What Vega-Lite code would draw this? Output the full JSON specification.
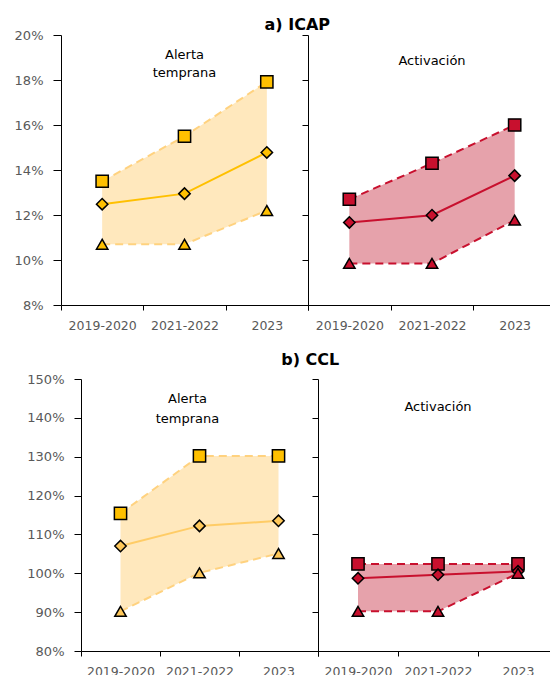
{
  "$schema": "https://vega.github.io/schema/vega-lite/v6.json",
  "padding": {"left": 0, "top": 17, "right": 0, "bottom": 0},
  "config": {
    "view": {"stroke": null},
    "font": "DejaVu Sans",
    "axis": {"grid": false, "domainColor": "#000000", "tickColor": "#000000", "labelColor": "#595959", "labelFont": "DejaVu Sans", "labelFontSize": 13, "labelOverlap": false, "title": null},
    "axisX": {"labelFontSize": 12.5},
    "title": {"font": "DejaVu Sans", "fontSize": 16, "fontWeight": "bold", "color": "#000000"},
    "concat": {"spacing": 0}
  },
  "datasets": {
    "d": [
      {"ind": "ICAP", "grp": "Alerta temprana", "period": "2019-2020", "lo": 10.7, "mid": 12.48, "hi": 13.5},
      {"ind": "ICAP", "grp": "Alerta temprana", "period": "2021-2022", "lo": 10.7, "mid": 12.95, "hi": 15.5},
      {"ind": "ICAP", "grp": "Alerta temprana", "period": "2023", "lo": 12.2, "mid": 14.78, "hi": 17.92},
      {"ind": "ICAP", "grp": "Activación", "period": "2019-2020", "lo": 9.85, "mid": 11.67, "hi": 12.7},
      {"ind": "ICAP", "grp": "Activación", "period": "2021-2022", "lo": 9.85, "mid": 11.99, "hi": 14.3},
      {"ind": "ICAP", "grp": "Activación", "period": "2023", "lo": 11.77, "mid": 13.75, "hi": 16.0},
      {"ind": "CCL", "grp": "Alerta temprana", "period": "2019-2020", "lo": 90.2, "mid": 107.0, "hi": 115.4},
      {"ind": "CCL", "grp": "Alerta temprana", "period": "2021-2022", "lo": 100.1, "mid": 112.2, "hi": 130.2},
      {"ind": "CCL", "grp": "Alerta temprana", "period": "2023", "lo": 105.1, "mid": 113.5, "hi": 130.2},
      {"ind": "CCL", "grp": "Activación", "period": "2019-2020", "lo": 90.2, "mid": 98.7, "hi": 102.4},
      {"ind": "CCL", "grp": "Activación", "period": "2021-2022", "lo": 90.2, "mid": 99.6, "hi": 102.4},
      {"ind": "CCL", "grp": "Activación", "period": "2023", "lo": 100.0, "mid": 100.5, "hi": 102.4}
    ]
  },
  "spacing": 20,
  "vconcat": [
    {
      "title": {"text": "a) ICAP", "anchor": "middle", "dx": 19, "offset": -4},
      "bounds": "flush",
      "spacing": 0,
      "hconcat": [
        {
          "width": 247, "height": 270,
          "data": {"name": "d"},
          "transform": [{"filter": "datum.ind === 'ICAP' && datum.grp === 'Alerta temprana'"}],
          "encoding": {
            "x": {"field": "period", "type": "ordinal", "bandPosition": 0.5,
              "scale": {"type": "band", "paddingInner": 0, "paddingOuter": 0, "domain": ["2019-2020", "2021-2022", "2023"]},
              "axis": {"tickBand": "extent", "labelAngle": 0, "tickSize": 5, "labelPadding": 9}}
          },
          "layer": [
            {"mark": {"type": "area", "color": "#FFE8BD", "opacity": 1},
             "encoding": {"y": {"field": "lo", "type": "quantitative", "scale": {"domain": [8, 20]},
               "axis": {"values": [8, 10, 12, 14, 16, 18, 20], "labelExpr": "datum.value + '%'", "tickSize": 8, "labelPadding": 10, "minExtent": 61, "maxExtent": 61}},
               "y2": {"field": "hi"}}},
            {"mark": {"type": "line", "color": "#FFD27F", "strokeWidth": 2, "strokeDash": [8, 5]}, "encoding": {"y": {"field": "hi", "type": "quantitative", "axis": {"values": [8, 10, 12, 14, 16, 18, 20], "labelExpr": "datum.value + '%'", "tickSize": 8, "labelPadding": 10, "minExtent": 61, "maxExtent": 61}}}},
            {"mark": {"type": "line", "color": "#FFD27F", "strokeWidth": 2, "strokeDash": [8, 5]}, "encoding": {"y": {"field": "lo", "type": "quantitative", "axis": {"values": [8, 10, 12, 14, 16, 18, 20], "labelExpr": "datum.value + '%'", "tickSize": 8, "labelPadding": 10, "minExtent": 61, "maxExtent": 61}}}},
            {"mark": {"type": "line", "color": "#FFC000", "strokeWidth": 2}, "encoding": {"y": {"field": "mid", "type": "quantitative", "axis": {"values": [8, 10, 12, 14, 16, 18, 20], "labelExpr": "datum.value + '%'", "tickSize": 8, "labelPadding": 10, "minExtent": 61, "maxExtent": 61}}}},
            {"mark": {"type": "point", "shape": "square", "size": 150, "filled": true, "fill": "#FFC000", "stroke": "#000000", "strokeWidth": 1.5, "opacity": 1}, "encoding": {"y": {"field": "hi", "type": "quantitative", "axis": {"values": [8, 10, 12, 14, 16, 18, 20], "labelExpr": "datum.value + '%'", "tickSize": 8, "labelPadding": 10, "minExtent": 61, "maxExtent": 61}}}},
            {"mark": {"type": "point", "shape": "diamond", "size": 130, "filled": true, "fill": "#FFC000", "stroke": "#000000", "strokeWidth": 1.5, "opacity": 1}, "encoding": {"y": {"field": "mid", "type": "quantitative", "axis": {"values": [8, 10, 12, 14, 16, 18, 20], "labelExpr": "datum.value + '%'", "tickSize": 8, "labelPadding": 10, "minExtent": 61, "maxExtent": 61}}}},
            {"mark": {"type": "point", "shape": "triangle-up", "size": 130, "filled": true, "fill": "#FFC000", "stroke": "#000000", "strokeWidth": 1.5, "opacity": 1}, "encoding": {"y": {"field": "lo", "type": "quantitative", "axis": {"values": [8, 10, 12, 14, 16, 18, 20], "labelExpr": "datum.value + '%'", "tickSize": 8, "labelPadding": 10, "minExtent": 61, "maxExtent": 61}}}},
            {"transform": [{"filter": "datum.period === '2021-2022'"}],
             "mark": {"type": "text", "fontSize": 13, "color": "#000000", "lineHeight": 18, "baseline": "middle"},
             "encoding": {"y": {"datum": 19.11, "type": "quantitative", "axis": {"values": [8, 10, 12, 14, 16, 18, 20], "labelExpr": "datum.value + '%'", "tickSize": 8, "labelPadding": 10, "minExtent": 61, "maxExtent": 61}}, "text": {"value": ["Alerta", "temprana"]}}}
          ]
        },
        {
          "width": 248, "height": 270,
          "data": {"name": "d"},
          "transform": [{"filter": "datum.ind === 'ICAP' && datum.grp === 'Activación'"}],
          "encoding": {
            "x": {"field": "period", "type": "ordinal", "bandPosition": 0.5,
              "scale": {"type": "band", "paddingInner": 0, "paddingOuter": 0, "domain": ["2019-2020", "2021-2022", "2023"]},
              "axis": {"tickBand": "extent", "labelAngle": 0, "tickSize": 5, "labelPadding": 9}}
          },
          "layer": [
            {"mark": {"type": "area", "color": "#E6A2AB", "opacity": 1},
             "encoding": {"y": {"field": "lo", "type": "quantitative", "scale": {"domain": [8, 20]},
               "axis": {"values": [8, 10, 12, 14, 16, 18, 20], "labels": false, "tickSize": 6, "minExtent": 0, "maxExtent": 0}},
               "y2": {"field": "hi"}}},
            {"mark": {"type": "line", "color": "#C8102E", "strokeWidth": 2, "strokeDash": [8, 5]}, "encoding": {"y": {"field": "hi", "type": "quantitative", "axis": {"values": [8, 10, 12, 14, 16, 18, 20], "labels": false, "tickSize": 6, "minExtent": 0, "maxExtent": 0}}}},
            {"mark": {"type": "line", "color": "#C8102E", "strokeWidth": 2, "strokeDash": [8, 5]}, "encoding": {"y": {"field": "lo", "type": "quantitative", "axis": {"values": [8, 10, 12, 14, 16, 18, 20], "labels": false, "tickSize": 6, "minExtent": 0, "maxExtent": 0}}}},
            {"mark": {"type": "line", "color": "#C8102E", "strokeWidth": 2}, "encoding": {"y": {"field": "mid", "type": "quantitative", "axis": {"values": [8, 10, 12, 14, 16, 18, 20], "labels": false, "tickSize": 6, "minExtent": 0, "maxExtent": 0}}}},
            {"mark": {"type": "point", "shape": "square", "size": 150, "filled": true, "fill": "#C8102E", "stroke": "#000000", "strokeWidth": 1.5, "opacity": 1}, "encoding": {"y": {"field": "hi", "type": "quantitative", "axis": {"values": [8, 10, 12, 14, 16, 18, 20], "labels": false, "tickSize": 6, "minExtent": 0, "maxExtent": 0}}}},
            {"mark": {"type": "point", "shape": "diamond", "size": 130, "filled": true, "fill": "#C8102E", "stroke": "#000000", "strokeWidth": 1.5, "opacity": 1}, "encoding": {"y": {"field": "mid", "type": "quantitative", "axis": {"values": [8, 10, 12, 14, 16, 18, 20], "labels": false, "tickSize": 6, "minExtent": 0, "maxExtent": 0}}}},
            {"mark": {"type": "point", "shape": "triangle-up", "size": 130, "filled": true, "fill": "#C8102E", "stroke": "#000000", "strokeWidth": 1.5, "opacity": 1}, "encoding": {"y": {"field": "lo", "type": "quantitative", "axis": {"values": [8, 10, 12, 14, 16, 18, 20], "labels": false, "tickSize": 6, "minExtent": 0, "maxExtent": 0}}}},
            {"transform": [{"filter": "datum.period === '2021-2022'"}],
             "mark": {"type": "text", "fontSize": 13, "color": "#000000", "baseline": "middle"},
             "encoding": {"y": {"datum": 18.85, "type": "quantitative", "axis": {"values": [8, 10, 12, 14, 16, 18, 20], "labels": false, "tickSize": 6, "minExtent": 0, "maxExtent": 0}}, "text": {"value": "Activación"}}}
          ]
        }
      ]
    },
    {
      "title": {"text": "b) CCL", "anchor": "middle", "dx": 21, "offset": 5},
      "bounds": "flush",
      "spacing": 0,
      "hconcat": [
        {
          "width": 20, "height": 272,
          "data": {"values": []},
          "mark": {"type": "point", "opacity": 0}
        },
        {
          "width": 237, "height": 272,
          "data": {"name": "d"},
          "transform": [{"filter": "datum.ind === 'CCL' && datum.grp === 'Alerta temprana'"}],
          "encoding": {
            "x": {"field": "period", "type": "ordinal", "bandPosition": 0.5,
              "scale": {"type": "band", "paddingInner": 0, "paddingOuter": 0, "domain": ["2019-2020", "2021-2022", "2023"]},
              "axis": {"tickBand": "extent", "labelAngle": 0, "tickSize": 5, "labelPadding": 9}}
          },
          "layer": [
            {"mark": {"type": "area", "color": "#FFE8BD", "opacity": 1},
             "encoding": {"y": {"field": "lo", "type": "quantitative", "scale": {"domain": [80, 150]},
               "axis": {"values": [80, 90, 100, 110, 120, 130, 140, 150], "labelExpr": "datum.value + '%'", "tickSize": 7, "labelPadding": 10, "minExtent": 61, "maxExtent": 61}},
               "y2": {"field": "hi"}}},
            {"mark": {"type": "line", "color": "#FFD27F", "strokeWidth": 2, "strokeDash": [8, 5]}, "encoding": {"y": {"field": "hi", "type": "quantitative", "axis": {"values": [80, 90, 100, 110, 120, 130, 140, 150], "labelExpr": "datum.value + '%'", "tickSize": 7, "labelPadding": 10, "minExtent": 61, "maxExtent": 61}}}},
            {"mark": {"type": "line", "color": "#FFD27F", "strokeWidth": 2, "strokeDash": [8, 5]}, "encoding": {"y": {"field": "lo", "type": "quantitative", "axis": {"values": [80, 90, 100, 110, 120, 130, 140, 150], "labelExpr": "datum.value + '%'", "tickSize": 7, "labelPadding": 10, "minExtent": 61, "maxExtent": 61}}}},
            {"mark": {"type": "line", "color": "#FFCC66", "strokeWidth": 2}, "encoding": {"y": {"field": "mid", "type": "quantitative", "axis": {"values": [80, 90, 100, 110, 120, 130, 140, 150], "labelExpr": "datum.value + '%'", "tickSize": 7, "labelPadding": 10, "minExtent": 61, "maxExtent": 61}}}},
            {"mark": {"type": "point", "shape": "square", "size": 150, "filled": true, "fill": "#FFC000", "stroke": "#000000", "strokeWidth": 1.5, "opacity": 1}, "encoding": {"y": {"field": "hi", "type": "quantitative", "axis": {"values": [80, 90, 100, 110, 120, 130, 140, 150], "labelExpr": "datum.value + '%'", "tickSize": 7, "labelPadding": 10, "minExtent": 61, "maxExtent": 61}}}},
            {"mark": {"type": "point", "shape": "diamond", "size": 130, "filled": true, "fill": "#FFC85A", "stroke": "#000000", "strokeWidth": 1.5, "opacity": 1}, "encoding": {"y": {"field": "mid", "type": "quantitative", "axis": {"values": [80, 90, 100, 110, 120, 130, 140, 150], "labelExpr": "datum.value + '%'", "tickSize": 7, "labelPadding": 10, "minExtent": 61, "maxExtent": 61}}}},
            {"mark": {"type": "point", "shape": "triangle-up", "size": 130, "filled": true, "fill": "#FFC85A", "stroke": "#000000", "strokeWidth": 1.5, "opacity": 1}, "encoding": {"y": {"field": "lo", "type": "quantitative", "axis": {"values": [80, 90, 100, 110, 120, 130, 140, 150], "labelExpr": "datum.value + '%'", "tickSize": 7, "labelPadding": 10, "minExtent": 61, "maxExtent": 61}}}},
            {"transform": [{"filter": "datum.period === '2021-2022'"}],
             "mark": {"type": "text", "fontSize": 13, "color": "#000000", "lineHeight": 20, "baseline": "middle", "dx": -12},
             "encoding": {"y": {"datum": 144.85, "type": "quantitative", "axis": {"values": [80, 90, 100, 110, 120, 130, 140, 150], "labelExpr": "datum.value + '%'", "tickSize": 7, "labelPadding": 10, "minExtent": 61, "maxExtent": 61}}, "text": {"value": ["Alerta", "temprana"]}}}
          ]
        },
        {
          "width": 240, "height": 272,
          "data": {"name": "d"},
          "transform": [{"filter": "datum.ind === 'CCL' && datum.grp === 'Activación'"}],
          "encoding": {
            "x": {"field": "period", "type": "ordinal", "bandPosition": 0.5,
              "scale": {"type": "band", "paddingInner": 0, "paddingOuter": 0, "domain": ["2019-2020", "2021-2022", "2023"]},
              "axis": {"tickBand": "extent", "labelAngle": 0, "tickSize": 5, "labelPadding": 9}}
          },
          "layer": [
            {"mark": {"type": "area", "color": "#E6A2AB", "opacity": 1},
             "encoding": {"y": {"field": "lo", "type": "quantitative", "scale": {"domain": [80, 150]},
               "axis": {"values": [80, 90, 100, 110, 120, 130, 140, 150], "labels": false, "tickSize": 6, "minExtent": 0, "maxExtent": 0}},
               "y2": {"field": "hi"}}},
            {"mark": {"type": "line", "color": "#C8102E", "strokeWidth": 2, "strokeDash": [8, 5]}, "encoding": {"y": {"field": "hi", "type": "quantitative", "axis": {"values": [80, 90, 100, 110, 120, 130, 140, 150], "labels": false, "tickSize": 6, "minExtent": 0, "maxExtent": 0}}}},
            {"mark": {"type": "line", "color": "#C8102E", "strokeWidth": 2, "strokeDash": [8, 5]}, "encoding": {"y": {"field": "lo", "type": "quantitative", "axis": {"values": [80, 90, 100, 110, 120, 130, 140, 150], "labels": false, "tickSize": 6, "minExtent": 0, "maxExtent": 0}}}},
            {"mark": {"type": "line", "color": "#C8102E", "strokeWidth": 2}, "encoding": {"y": {"field": "mid", "type": "quantitative", "axis": {"values": [80, 90, 100, 110, 120, 130, 140, 150], "labels": false, "tickSize": 6, "minExtent": 0, "maxExtent": 0}}}},
            {"mark": {"type": "point", "shape": "square", "size": 150, "filled": true, "fill": "#C8102E", "stroke": "#000000", "strokeWidth": 1.5, "opacity": 1}, "encoding": {"y": {"field": "hi", "type": "quantitative", "axis": {"values": [80, 90, 100, 110, 120, 130, 140, 150], "labels": false, "tickSize": 6, "minExtent": 0, "maxExtent": 0}}}},
            {"mark": {"type": "point", "shape": "diamond", "size": 130, "filled": true, "fill": "#C8102E", "stroke": "#000000", "strokeWidth": 1.5, "opacity": 1}, "encoding": {"y": {"field": "mid", "type": "quantitative", "axis": {"values": [80, 90, 100, 110, 120, 130, 140, 150], "labels": false, "tickSize": 6, "minExtent": 0, "maxExtent": 0}}}},
            {"mark": {"type": "point", "shape": "triangle-up", "size": 130, "filled": true, "fill": "#C8102E", "stroke": "#000000", "strokeWidth": 1.5, "opacity": 1}, "encoding": {"y": {"field": "lo", "type": "quantitative", "axis": {"values": [80, 90, 100, 110, 120, 130, 140, 150], "labels": false, "tickSize": 6, "minExtent": 0, "maxExtent": 0}}}},
            {"transform": [{"filter": "datum.period === '2021-2022'"}],
             "mark": {"type": "text", "fontSize": 13, "color": "#000000", "baseline": "middle"},
             "encoding": {"y": {"datum": 142.8, "type": "quantitative", "axis": {"values": [80, 90, 100, 110, 120, 130, 140, 150], "labels": false, "tickSize": 6, "minExtent": 0, "maxExtent": 0}}, "text": {"value": "Activación"}}}
          ]
        }
      ]
    }
  ]
}
